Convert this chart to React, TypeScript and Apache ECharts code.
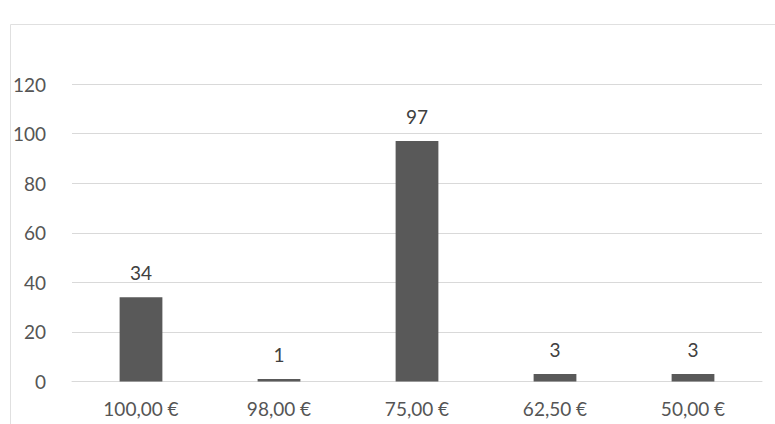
import React, { useEffect, useRef } from "react";
import * as echarts from "echarts";

const categories = ["100,00 €", "98,00 €", "75,00 €", "62,50 €", "50,00 €"];
const values = [34, 1, 97, 3, 3];
const yTicks = [0, 20, 40, 60, 80, 100, 120];

export default function App() {
  const ref = useRef<HTMLDivElement>(null);
  useEffect(() => {
    if (!ref.current) return;
    const chart = echarts.init(ref.current, undefined, { renderer: "svg" });
    const font = "Lato, 'Open Sans', sans-serif";
    chart.setOption({
      animation: false,
      backgroundColor: "#ffffff",
      graphic: [
        {
          type: "rect",
          left: 8,
          top: 22,
          shape: { width: 800, height: 460 },
          style: { fill: "none", stroke: "#e0e0e0", lineWidth: 1 },
          silent: true,
        },
      ],
      grid: { left: 72, right: 13, top: 84, bottom: 42.5 },
      xAxis: {
        type: "category",
        data: categories,
        axisLine: { show: true, lineStyle: { color: "#d9d9d9", width: 1 } },
        axisTick: { show: false },
        axisLabel: { color: "#555555", fontSize: 19, fontFamily: font, margin: 17 },
      },
      yAxis: {
        type: "value",
        min: yTicks[0],
        max: yTicks[yTicks.length - 1],
        interval: 20,
        axisLine: { show: false },
        axisTick: { show: false },
        axisLabel: { color: "#555555", fontSize: 19, fontFamily: font, margin: 26 },
        splitLine: { lineStyle: { color: "#d9d9d9", width: 1 } },
      },
      series: [
        {
          type: "bar",
          data: values,
          barWidth: "31%",
          itemStyle: { color: "#595959" },
          label: {
            show: true,
            position: "top",
            distance: 15,
            color: "#404040",
            fontSize: 19,
            fontFamily: font,
          },
        },
      ],
    });
    return () => chart.dispose();
  }, []);
  return <div ref={ref} style={{ width: 775, height: 424, position: "absolute", left: 0, top: 0 }} />;
}
